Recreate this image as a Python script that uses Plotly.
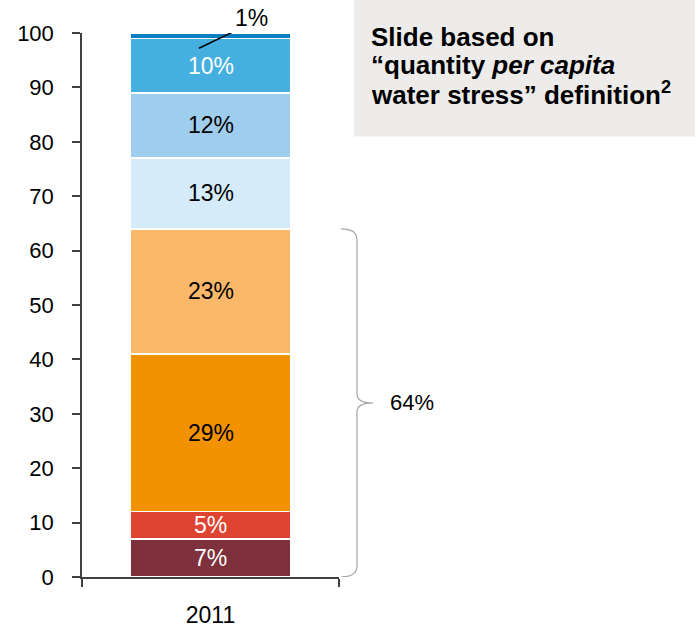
import plotly.graph_objects as go

# Share of population by water-stress class, 2011 (stacked to 100%)
year = ["2011"]
segment_values = [7, 5, 29, 23, 13, 12, 10, 1]
segment_labels = ["7%", "5%", "29%", "23%", "13%", "12%", "10%", "1%"]
segment_colors = ["#7E313C", "#DF4331", "#F39200", "#FBB86B",
                  "#D5EBFA", "#9FCDEE", "#45B0E0", "#0B7FC4"]
label_colors = ["white", "white", "black", "black",
                "black", "black", "white", "black"]
bracket_count = 4  # the four bottom classes grouped by the brace

FONT = "Liberation Sans, Arial, sans-serif"

fig = go.Figure()
for val, col in zip(segment_values, segment_colors):
    fig.add_trace(go.Bar(
        x=year, y=[val], marker=dict(color=col, line=dict(color="white", width=1.5)),
        hoverinfo="skip", showlegend=False,
    ))

annotations = []
shapes = []

# in-bar labels at segment centres (except the thin top one)
cum = 0
tops = []
for val, lab, tc in zip(segment_values, segment_labels, label_colors):
    tops.append(cum + val)
    if val >= 5:
        annotations.append(dict(x=0, y=cum + val / 2, xref="x", yref="y",
                                text=lab, showarrow=False,
                                font=dict(family=FONT, size=23, color=tc)))
    cum += val

# thin top segment: label above the bar with a leader line
annotations.append(dict(x=0.16, y=tops[-1] / 100 + 0.028, xref="x", yref="paper",
                        xanchor="center", yanchor="middle",
                        text=segment_labels[-1], showarrow=False,
                        font=dict(family=FONT, size=23, color="black")))
shapes.append(dict(type="line", xref="x", yref="y",
                   x0=-0.045, y0=tops[-2] - 1.8, x1=0.105, y1=tops[-1] + 0.6,
                   line=dict(color="black", width=1.5)))

# brace grouping the lower classes
top = tops[bracket_count - 1]
mid = top / 2
x0, x1, x2 = 1.008, 1.070, 1.132
path = (f"M {x0},{top} Q {x1},{top} {x1},{top - 2} "
        f"L {x1},{mid + 1.7} Q {x1},{mid} {x2},{mid} "
        f"Q {x1},{mid} {x1},{mid - 1.7} "
        f"L {x1},2 Q {x1},0 {x0},0")
shapes.append(dict(type="path", xref="paper", yref="y", path=path,
                   line=dict(color="#A6A6A6", width=1.2)))
annotations.append(dict(x=1.19, y=mid, xref="paper", yref="y", xanchor="left",
                        text=f"{top}%", showarrow=False,
                        font=dict(family=FONT, size=22, color="black")))

# grey note box
shapes.append(dict(type="rect", xref="paper", yref="paper",
                   x0=1.058, x1=2.385, y0=0.8097, y1=1.07,
                   fillcolor="#EDECEA", line=dict(width=0), layer="below"))
note_lines = ["Slide based on",
              "“quantity <i>per capita</i>",
              "water stress” definition<sup>2</sup>"]
note_centres_px = [37, 65.5, 94]
for txt, cpx in zip(note_lines, note_centres_px):
    annotations.append(dict(x=1.115, y=(577.5 - cpx) / 544, xref="paper", yref="paper",
                            xanchor="left", yanchor="middle", text=f"<b>{txt}</b>",
                            showarrow=False,
                            font=dict(family=FONT, size=26, color="black")))

fig.update_layout(
    barmode="stack", bargap=0.379,
    width=700, height=627,
    margin=dict(l=82, r=361, t=33, b=50, autoexpand=False),
    paper_bgcolor="white", plot_bgcolor="white",
    font=dict(family=FONT, size=22, color="black"),
    annotations=annotations, shapes=shapes,
    xaxis=dict(type="category", range=[-0.5, 0.5], showline=True, linecolor="#404040",
               linewidth=1.5, ticks="outside", tickson="boundaries", ticklen=8,
               tickcolor="#404040", tickwidth=1.5, showgrid=False, automargin=False,
               tickfont=dict(family=FONT, size=23), ticklabelstandoff=17),
    yaxis=dict(range=[0, 100], dtick=10, showline=True, linecolor="#404040",
               linewidth=1.5, ticks="outside", ticklen=8, tickcolor="#404040",
               tickwidth=1.5, showgrid=False, zeroline=False, automargin=False,
               tickfont=dict(family=FONT, size=22), ticklabelstandoff=14),
)

fig.write_html("out.html")
